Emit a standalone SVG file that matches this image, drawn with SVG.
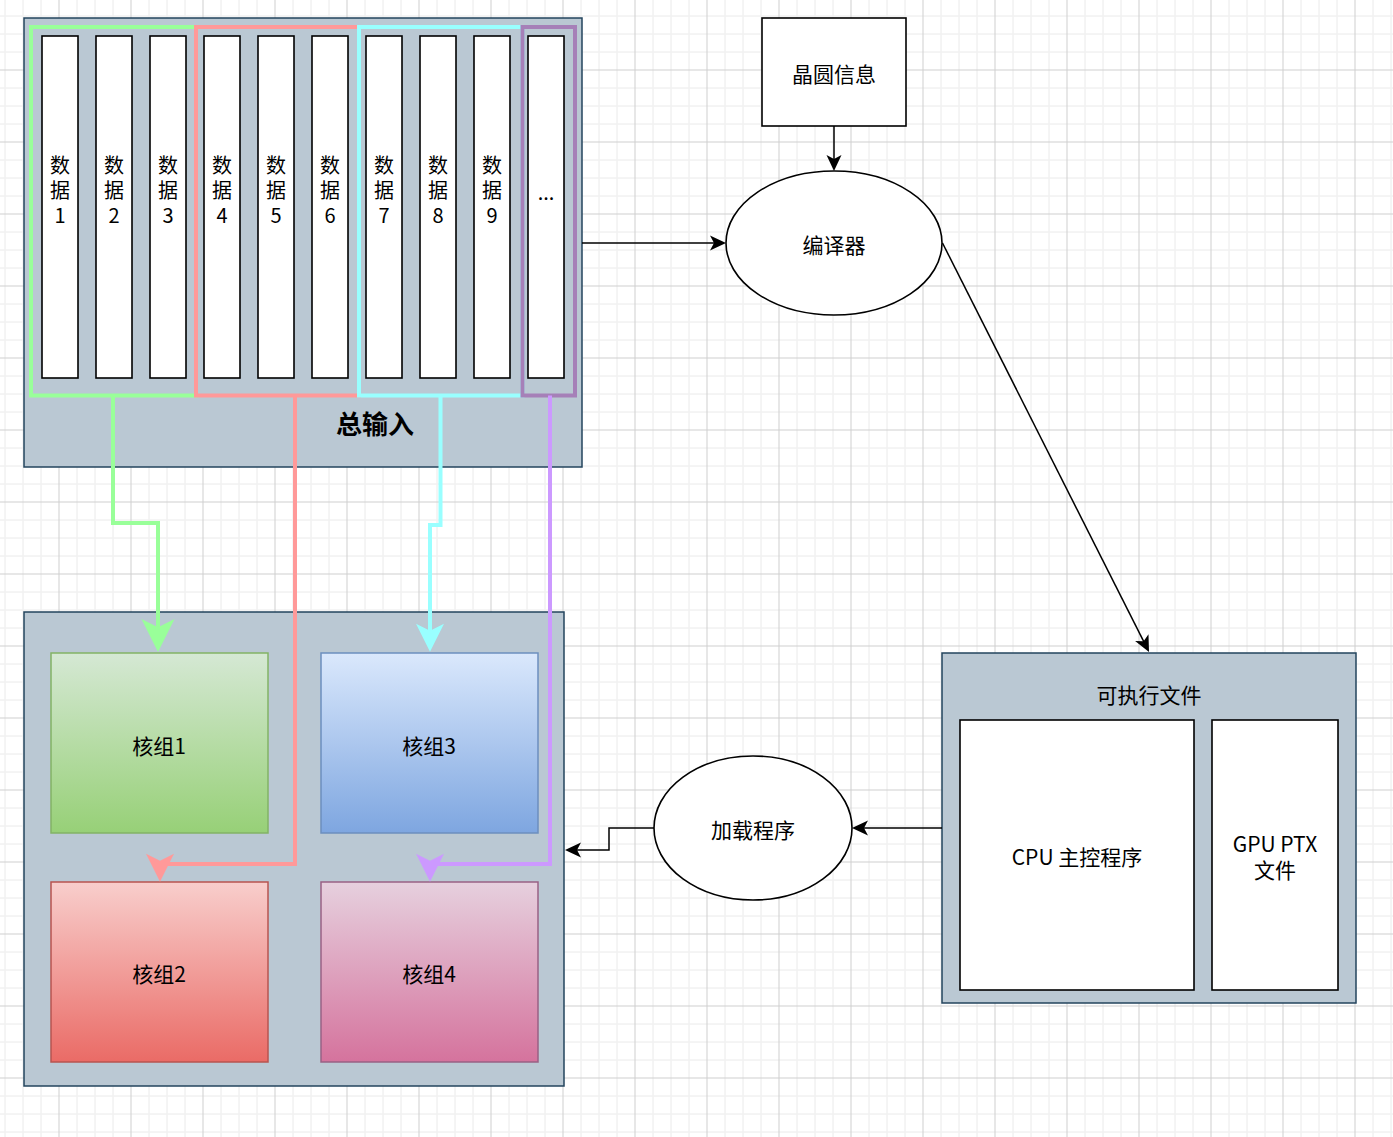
<svg xmlns="http://www.w3.org/2000/svg" width="1393" height="1137" viewBox="0 0 1393 1137">
<style>
text{font-family:"Noto Sans CJK SC","Noto Sans",sans-serif;fill:#000;text-anchor:middle}
.t20{font-size:20px}
.t21{font-size:21px}
.bold{font-size:26px;font-weight:bold}
.cont{fill:#bac8d3;stroke:#23445d;stroke-width:1.5}
.col{fill:#fff;stroke:#000;stroke-width:1.6}
.box{fill:#fff;stroke:#000;stroke-width:1.6}
.grp{fill:none;stroke-width:4}
.blk{fill:none;stroke:#000;stroke-width:1.5}
.thk{fill:none;stroke-width:4;stroke-linejoin:miter}
</style>
<defs>
<pattern id="grid" patternUnits="userSpaceOnUse" x="59" y="-2" width="72" height="72">
<rect x="0" y="0" width="72" height="72" fill="#fff"/>
<g fill="#f2f2f2">
<rect x="17.3" y="0" width="1.5" height="72"/><rect x="35.3" y="0" width="1.5" height="72"/><rect x="53.3" y="0" width="1.5" height="72"/>
<rect x="0" y="17.3" width="72" height="1.5"/><rect x="0" y="35.3" width="72" height="1.5"/><rect x="0" y="53.3" width="72" height="1.5"/>
</g>
<g fill="#d0d0d0">
<rect x="-0.5" y="0" width="1" height="72"/><rect x="71.5" y="0" width="1" height="72"/>
<rect x="0" y="-0.5" width="72" height="1"/><rect x="0" y="71.5" width="72" height="1"/>
</g>
</pattern>
<linearGradient id="gG" x1="0" y1="0" x2="0" y2="1"><stop offset="0" stop-color="#d5e8d4"/><stop offset="1" stop-color="#97d077"/></linearGradient>
<linearGradient id="gB" x1="0" y1="0" x2="0" y2="1"><stop offset="0" stop-color="#dae8fc"/><stop offset="1" stop-color="#7ea6e0"/></linearGradient>
<linearGradient id="gR" x1="0" y1="0" x2="0" y2="1"><stop offset="0" stop-color="#f8cecc"/><stop offset="1" stop-color="#ea6b66"/></linearGradient>
<linearGradient id="gP" x1="0" y1="0" x2="0" y2="1"><stop offset="0" stop-color="#e6d0de"/><stop offset="1" stop-color="#d5739d"/></linearGradient>
<marker id="mBlk" markerUnits="userSpaceOnUse" markerWidth="20" markerHeight="20" viewBox="0 0 20 20" refX="12" refY="10" orient="auto"><path d="M18,10 L2,2.5 L6,10 L2,17.5 Z" fill="#000"/></marker>
<marker id="mGreen" markerUnits="userSpaceOnUse" markerWidth="36" markerHeight="36" viewBox="0 0 36 36" refX="20.5" refY="18" orient="auto"><path d="M34.5,18 L1.5,1.5 L9.75,18 L1.5,34.5 Z" fill="#99ff99"/></marker>
<marker id="mRed" markerUnits="userSpaceOnUse" markerWidth="32" markerHeight="32" viewBox="0 0 32 32" refX="18" refY="16" orient="auto"><path d="M30,16 L2,2 L9,16 L2,30 Z" fill="#ff9999"/></marker>
<marker id="mCyan" markerUnits="userSpaceOnUse" markerWidth="32" markerHeight="32" viewBox="0 0 32 32" refX="18" refY="16" orient="auto"><path d="M30,16 L2,2 L9,16 L2,30 Z" fill="#99ffff"/></marker>
<marker id="mPurple" markerUnits="userSpaceOnUse" markerWidth="32" markerHeight="32" viewBox="0 0 32 32" refX="18" refY="16" orient="auto"><path d="M30,16 L2,2 L9,16 L2,30 Z" fill="#cc99ff"/></marker>
</defs>
<rect x="0" y="0" width="1393" height="1137" fill="url(#grid)"/>

<g id="total-input">
<rect class="cont" x="24" y="18" width="558" height="449"/>
<text class="bold" x="375" y="434">总输入</text>
</g>

<g id="data-columns">
<g id="data1"><rect class="col" x="42" y="36" width="36" height="342"/><text class="t20"><tspan x="60" y="173">数</tspan><tspan x="60" y="198">据</tspan><tspan x="60" y="223">1</tspan></text></g>
<g id="data2"><rect class="col" x="96" y="36" width="36" height="342"/><text class="t20"><tspan x="114" y="173">数</tspan><tspan x="114" y="198">据</tspan><tspan x="114" y="223">2</tspan></text></g>
<g id="data3"><rect class="col" x="150" y="36" width="36" height="342"/><text class="t20"><tspan x="168" y="173">数</tspan><tspan x="168" y="198">据</tspan><tspan x="168" y="223">3</tspan></text></g>
<g id="data4"><rect class="col" x="204" y="36" width="36" height="342"/><text class="t20"><tspan x="222" y="173">数</tspan><tspan x="222" y="198">据</tspan><tspan x="222" y="223">4</tspan></text></g>
<g id="data5"><rect class="col" x="258" y="36" width="36" height="342"/><text class="t20"><tspan x="276" y="173">数</tspan><tspan x="276" y="198">据</tspan><tspan x="276" y="223">5</tspan></text></g>
<g id="data6"><rect class="col" x="312" y="36" width="36" height="342"/><text class="t20"><tspan x="330" y="173">数</tspan><tspan x="330" y="198">据</tspan><tspan x="330" y="223">6</tspan></text></g>
<g id="data7"><rect class="col" x="366" y="36" width="36" height="342"/><text class="t20"><tspan x="384" y="173">数</tspan><tspan x="384" y="198">据</tspan><tspan x="384" y="223">7</tspan></text></g>
<g id="data8"><rect class="col" x="420" y="36" width="36" height="342"/><text class="t20"><tspan x="438" y="173">数</tspan><tspan x="438" y="198">据</tspan><tspan x="438" y="223">8</tspan></text></g>
<g id="data9"><rect class="col" x="474" y="36" width="36" height="342"/><text class="t20"><tspan x="492" y="173">数</tspan><tspan x="492" y="198">据</tspan><tspan x="492" y="223">9</tspan></text></g>
<g id="data-more"><rect class="col" x="528" y="36" width="36" height="342"/><text class="t20" x="546" y="200">...</text></g>
</g>

<g id="groups">
<rect id="group-green" class="grp" stroke="#99ff99" x="31" y="27" width="165" height="368.5"/>
<rect id="group-red" class="grp" stroke="#ff9999" x="196" y="27" width="163" height="368.5"/>
<rect id="group-cyan" class="grp" stroke="#99ffff" x="359" y="27" width="163.5" height="368.5"/>
<rect id="group-purple" class="grp" stroke="#a680b8" x="522.5" y="27" width="52.5" height="368.5"/>
</g>

<g id="wafer-info">
<rect class="box" x="762" y="18" width="144" height="108"/>
<text class="t21" x="834" y="82">晶圆信息</text>
</g>

<g id="compiler">
<ellipse class="box" cx="834" cy="243" rx="108" ry="72"/>
<text class="t21" x="834" y="253">编译器</text>
</g>

<g id="core-container">
<rect class="cont" x="24" y="612" width="540" height="474"/>
</g>
<g id="core1">
<rect x="51" y="653" width="217" height="180" fill="url(#gG)" stroke="#82b366" stroke-width="1.5"/>
<text class="t21" x="159" y="754">核组1</text>
</g>
<g id="core3">
<rect x="321" y="653" width="217" height="180" fill="url(#gB)" stroke="#6c8ebf" stroke-width="1.5"/>
<text class="t21" x="429" y="754">核组3</text>
</g>
<g id="core2">
<rect x="51" y="882" width="217" height="180" fill="url(#gR)" stroke="#b85450" stroke-width="1.5"/>
<text class="t21" x="159" y="982">核组2</text>
</g>
<g id="core4">
<rect x="321" y="882" width="217" height="180" fill="url(#gP)" stroke="#996185" stroke-width="1.5"/>
<text class="t21" x="429" y="982">核组4</text>
</g>

<g id="executable">
<rect class="cont" x="942" y="653" width="414" height="350"/>
<text class="t21" x="1149" y="703">可执行文件</text>
</g>
<g id="cpu-main">
<rect class="box" x="960" y="720" width="234" height="270"/>
<text class="t21" x="1077" y="865">CPU 主控程序</text>
</g>
<g id="gpu-ptx">
<rect class="box" x="1212" y="720" width="126" height="270"/>
<text class="t21"><tspan x="1275" y="852">GPU PTX</tspan><tspan x="1275" y="878">文件</tspan></text>
</g>

<g id="loader">
<ellipse class="box" cx="753" cy="828" rx="99" ry="72"/>
<text class="t21" x="753" y="838">加载程序</text>
</g>

<g id="connectors">
<path class="thk" stroke="#99ff99" stroke-width="5" d="M113,395.5 V523 H158 V638" marker-end="url(#mGreen)"/>
<path class="thk" stroke="#ff9999" d="M295,395.5 V864 H160 V869.7" marker-end="url(#mRed)"/>
<path class="thk" stroke="#99ffff" d="M440.5,395.5 V525 H430 V639.7" marker-end="url(#mCyan)"/>
<path class="thk" stroke="#cc99ff" d="M550,395.5 V864 H430 V869.7" marker-end="url(#mPurple)"/>
<path class="blk" d="M834,126 V165" marker-end="url(#mBlk)"/>
<path class="blk" d="M582,243 H720" marker-end="url(#mBlk)"/>
<path class="blk" d="M942.5,243 L1146.3,646.6" marker-end="url(#mBlk)"/>
<path class="blk" d="M942,828 H858" marker-end="url(#mBlk)"/>
<path class="blk" d="M654,828 H609 V850 H571" marker-end="url(#mBlk)"/>
</g>
</svg>
